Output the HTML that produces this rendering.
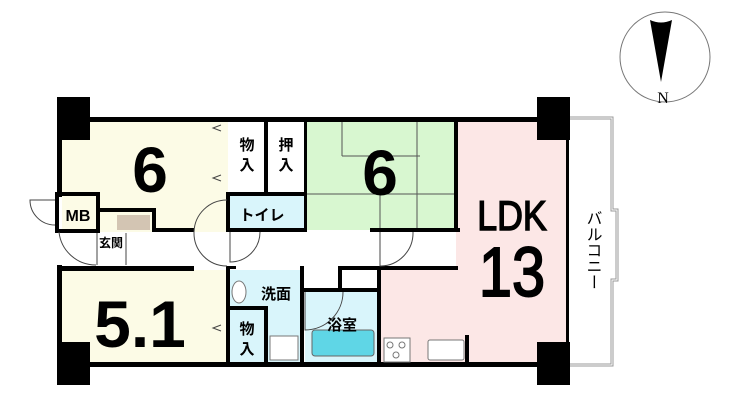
<!DOCTYPE html>
<html><head><meta charset="utf-8"><style>
body{margin:0;background:#fff}
svg{display:block}
text{font-family:"Liberation Sans","Noto Sans CJK JP",sans-serif;font-weight:bold;fill:#000}
</style></head><body>
<svg width="740" height="401" viewBox="0 0 740 401" xmlns="http://www.w3.org/2000/svg">
<!-- compass -->
<circle cx="665" cy="57" r="45" fill="none" stroke="#777" stroke-width="1"/>
<path d="M650 20 Q661 25 672 20 L661 82 Z" fill="#000"/>
<text x="663" y="103" style="font-family:'Liberation Serif',serif;font-weight:normal;font-size:16px" text-anchor="middle">N</text>
<!-- balcony -->
<path d="M570 118 H612 V210 H617 V280 H612 V365 H570" fill="#fff" stroke="#999" stroke-width="3"/>
<path d="M570 118 H612 V210 H617 V280 H612 V365 H570" fill="none" stroke="#fff" stroke-width="1"/>
<!-- room fills -->
<rect x="62" y="122" width="166" height="110" fill="#fcfbe6"/>
<rect x="62" y="270" width="166" height="95" fill="#fcfbe6"/>
<rect x="306" y="122" width="150" height="108" fill="#d8f7d0"/>
<rect x="456" y="122" width="112" height="243" fill="#fce7e6"/>
<rect x="380" y="270" width="80" height="95" fill="#fce7e6"/>
<rect x="228" y="195" width="78" height="37" fill="#d9f5fb"/>
<rect x="230" y="270" width="72" height="95" fill="#d9f5fb"/>
<rect x="305" y="290" width="73" height="75" fill="#d9f5fb"/>
<rect x="117" y="215" width="33" height="15" fill="#d3c5b3"/>
<!-- tatami lines -->
<g stroke="#555" stroke-width="1" fill="none">
<path d="M342 122 V156 M417 122 V230 M342 156 H420 M306 194 H456 M380 194 V230"/>
</g>
<!-- walls -->
<g fill="#000">
<rect x="57" y="117" width="513" height="5"/>
<rect x="57" y="362" width="513" height="5"/>
<rect x="57" y="97" width="33" height="43"/>
<rect x="57" y="342" width="33" height="43"/>
<rect x="537" y="97" width="33" height="43"/>
<rect x="537" y="342" width="33" height="43"/>
<rect x="57" y="117" width="5" height="80"/>
<rect x="57" y="265" width="5" height="100"/>
<rect x="55" y="192" width="45" height="4"/>
<rect x="55" y="229" width="45" height="4"/>
<rect x="55" y="192" width="4" height="41"/>
<rect x="96" y="192" width="4" height="41"/>
<rect x="96" y="208" width="60" height="4"/>
<rect x="152" y="208" width="4" height="24"/>
<rect x="152" y="228" width="42" height="4"/>
<rect x="226" y="192" width="4" height="40"/>
<rect x="226" y="228" width="80" height="4"/>
<rect x="226" y="192" width="80" height="4"/>
<rect x="264" y="122" width="4" height="72"/>
<rect x="304" y="122" width="3" height="110"/>
<rect x="370" y="228" width="90" height="4"/>
<rect x="454" y="122" width="4" height="110"/>
<rect x="62" y="266" width="132" height="5"/>
<rect x="226" y="266" width="4" height="100"/>
<rect x="226" y="266" width="10" height="3"/>
<rect x="226" y="306" width="42" height="4"/>
<rect x="264" y="306" width="4" height="60"/>
<rect x="300" y="266" width="4" height="100"/>
<rect x="304" y="288" width="74" height="4"/>
<rect x="338" y="268" width="4" height="22"/>
<rect x="338" y="266" width="120" height="4"/>
<rect x="377" y="268" width="4" height="98"/>
<rect x="465" y="335" width="4" height="30"/>
<rect x="566" y="140" width="3" height="202"/>
</g>
<!-- doors -->
<g fill="none" stroke="#444" stroke-width="1">
<path d="M227 200 A33 33 0 0 0 194 232"/>
<path d="M227 266 A33 33 0 0 1 194 232"/>
<path d="M230 232 V262 A30 30 0 0 0 260 232"/>
<path d="M380 232 V266 A33 33 0 0 0 413 232"/>
<path d="M305 292 V330 A38 38 0 0 0 343 292"/>
<path d="M59 232 A37 37 0 0 0 96 265"/>
<path d="M55 200 H30 A25 25 0 0 0 55 225"/>
<path d="M97 233 V265 M126 233 V265"/>
<path d="M221 125 l-8 3 8 3 M221 175 l-8 3 8 3 M221 325 l-8 3 8 3"/>
</g>
<!-- fixtures -->
<rect x="312" y="330" width="62" height="26" rx="3" fill="#5fd6e6" stroke="#666"/>
<rect x="384" y="338" width="26" height="24" fill="#fff" stroke="#777"/>
<circle cx="390" cy="345" r="3" fill="none" stroke="#777"/><circle cx="402" cy="345" r="3" fill="none" stroke="#777"/><circle cx="396" cy="355" r="3" fill="none" stroke="#777"/>
<rect x="428" y="340" width="36" height="20" rx="2" fill="#fff" stroke="#777"/>
<ellipse cx="239" cy="292" rx="7" ry="11" fill="#fff" stroke="#777"/>
<rect x="270" y="336" width="28" height="24" fill="#fff" stroke="#777"/>
<!-- labels -->
<text x="150" y="192" font-size="64" text-anchor="middle">6</text>
<text x="380" y="195" font-size="64" text-anchor="middle">6</text>
<g transform="translate(512 0) scale(0.85 1)">
<text x="0" y="230" style="font-weight:normal;font-size:42px" text-anchor="middle" stroke="#000" stroke-width="1.5">LDK</text>
<text x="0" y="296" style="font-weight:normal;font-size:70px" text-anchor="middle" stroke="#000" stroke-width="2">13</text>
</g>
<text x="140" y="347" font-size="66" text-anchor="middle">5.1</text>
<text x="78" y="221" font-size="16" text-anchor="middle">MB</text>
<text x="111" y="247" font-size="12" text-anchor="middle">玄関</text>
<text x="247" y="150" font-size="15" text-anchor="middle">物</text>
<text x="247" y="170" font-size="15" text-anchor="middle">入</text>
<text x="286" y="150" font-size="15" text-anchor="middle">押</text>
<text x="286" y="170" font-size="15" text-anchor="middle">入</text>
<text x="262" y="220" font-size="15" text-anchor="middle">トイレ</text>
<text x="276" y="299" font-size="15" text-anchor="middle">洗面</text>
<text x="247" y="334" font-size="15" text-anchor="middle">物</text>
<text x="247" y="354" font-size="15" text-anchor="middle">入</text>
<text x="342" y="330" font-size="15" text-anchor="middle">浴室</text>
<text x="592" y="210" style="font-weight:normal;font-size:16px" writing-mode="tb">バルコニー</text>
</svg>
</body></html>
